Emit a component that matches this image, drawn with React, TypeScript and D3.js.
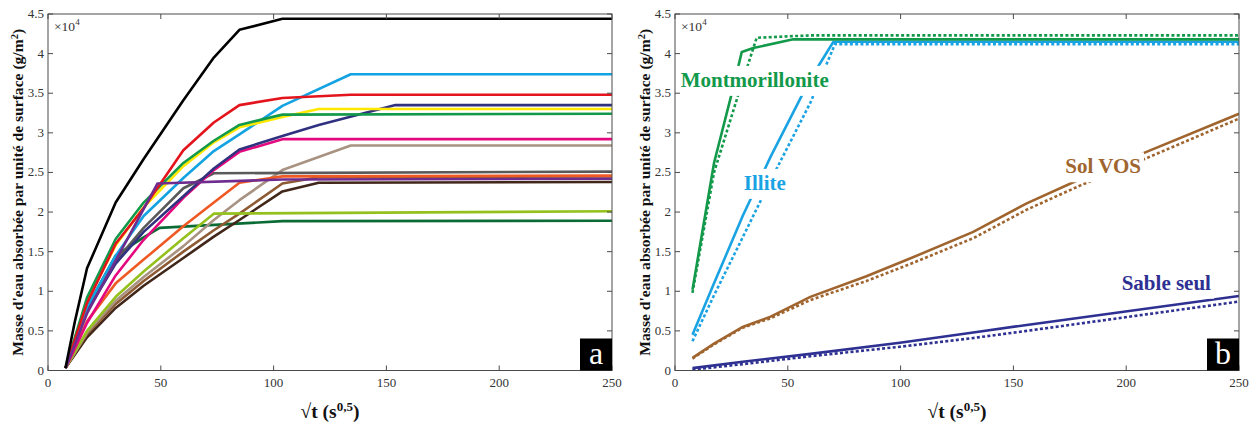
import React, { useEffect, useRef } from 'react';
import * as d3 from 'd3';

type Pt = [number, number];

const xTicks = [0, 50, 100, 150, 200, 250];
const yTicks = [0, 0.5, 1, 1.5, 2, 2.5, 3, 3.5, 4, 4.5];
const yTickLabels = ['0', '0.5', '1', '1.5', '2', '2.5', '3', '3.5', '4', '4.5'];

// Panel a: sqrt(t) (s^0.5) vs mass absorbed (x1e4 g/m2)
const aDarkGreen: Pt[] = [[7.75, 0.03], [17.3, 0.8], [30, 1.45], [42.4, 1.68], [49.5, 1.8], [103.9, 1.885], [250, 1.89]];
const aDarkBrown: Pt[] = [[7.75, 0.03], [17.3, 0.42], [30, 0.79], [42.4, 1.07], [60, 1.42], [73.5, 1.69], [84.85, 1.9], [103.9, 2.26], [120, 2.37], [250, 2.38]];
const aBrown: Pt[] = [[7.75, 0.03], [17.3, 0.46], [30, 0.84], [42.4, 1.13], [60, 1.5], [73.5, 1.77], [84.85, 1.98], [103.9, 2.36], [120, 2.44], [250, 2.45]];
const aTan: Pt[] = [[7.75, 0.03], [17.3, 0.48], [30, 0.88], [42.4, 1.18], [60, 1.57], [73.5, 1.9], [84.85, 2.15], [103.9, 2.53], [134.2, 2.84], [250, 2.84]];
const aLightGreen: Pt[] = [[7.75, 0.03], [17.3, 0.5], [30, 0.93], [42.4, 1.25], [60, 1.67], [73.5, 1.98], [250, 2.01]];
const aOrange: Pt[] = [[7.75, 0.03], [17.3, 0.62], [30, 1.1], [42.4, 1.4], [60, 1.82], [73.5, 2.12], [84.85, 2.37], [103.9, 2.45], [250, 2.46]];
const aGray: Pt[] = [[7.75, 0.03], [17.3, 0.78], [30, 1.38], [42.4, 1.8], [60, 2.3], [73.5, 2.49], [250, 2.51]];
const aPink: Pt[] = [[7.75, 0.03], [17.3, 0.6], [30, 1.2], [42.4, 1.65], [60, 2.18], [73.5, 2.53], [84.85, 2.76], [103.9, 2.92], [250, 2.92]];
const aNavy: Pt[] = [[7.75, 0.03], [17.3, 0.75], [30, 1.35], [42.4, 1.75], [60, 2.2], [73.5, 2.55], [84.85, 2.79], [103.9, 2.96], [120, 3.1], [154, 3.35], [250, 3.35]];
const aBlue: Pt[] = [[7.75, 0.03], [17.3, 0.8], [30, 1.45], [42.4, 1.95], [60, 2.43], [73.5, 2.77], [84.85, 2.98], [103.9, 3.34], [134.2, 3.74], [250, 3.74]];
const aYellow: Pt[] = [[7.75, 0.03], [17.3, 0.88], [30, 1.58], [42.4, 2.06], [60, 2.58], [73.5, 2.88], [84.85, 3.07], [103.9, 3.2], [120, 3.3], [250, 3.3]];
const aGreen: Pt[] = [[7.75, 0.03], [17.3, 0.92], [30, 1.66], [42.4, 2.12], [60, 2.62], [73.5, 2.9], [84.85, 3.1], [103.9, 3.23], [250, 3.24]];
const aRed: Pt[] = [[7.75, 0.03], [17.3, 0.85], [30, 1.6], [42.4, 2.05], [60, 2.78], [73.5, 3.13], [84.85, 3.35], [103.9, 3.44], [134.2, 3.48], [250, 3.48]];
const aPurple: Pt[] = [[7.75, 0.03], [17.3, 0.72], [48.5, 2.36], [103.9, 2.41], [250, 2.42]];
const aBlack: Pt[] = [[7.75, 0.03], [12, 0.63], [17.3, 1.29], [30, 2.12], [42.4, 2.67], [60, 3.41], [73.5, 3.95], [84.85, 4.3], [103.9, 4.44], [250, 4.44]];

const aSeries: Pt[][] = [aDarkGreen, aDarkBrown, aBrown, aTan, aLightGreen, aOrange, aGray, aPink, aNavy, aBlue, aYellow, aGreen, aRed, aPurple, aBlack];
const aColors = ['#0b6b35', '#41261a', '#8d5a33', '#a89282', '#95c11f', '#ef5a24', '#5a5a5a', '#e5097f', '#30317f', '#13a3e2', '#ffe800', '#12994a', '#e3141b', '#6f2c8f', '#000000'];

// Panel b
const bMontSolid: Pt[] = [[7.75, 1.02], [17.3, 2.62], [25, 3.48], [29.6, 4.02], [34.7, 4.07], [52.4, 4.18], [250, 4.18]];
const bMontDot: Pt[] = [[7.75, 0.98], [17.3, 2.5], [27.6, 3.44], [36.2, 4.2], [60, 4.23], [250, 4.23]];
const bIlliteSolid: Pt[] = [[7.75, 0.45], [17.3, 1.1], [30, 1.95], [42.4, 2.7], [60, 3.68], [70.2, 4.15], [250, 4.15]];
const bIlliteDot: Pt[] = [[7.75, 0.37], [17.3, 0.95], [30, 1.68], [42.4, 2.4], [60, 3.38], [70.9, 4.12], [250, 4.12]];
const bSolSolid: Pt[] = [[7.75, 0.16], [17.3, 0.34], [30, 0.55], [42.4, 0.68], [60, 0.93], [84.85, 1.19], [103.9, 1.41], [132.2, 1.75], [155.9, 2.11], [180, 2.42], [209, 2.76], [250, 3.24]];
const bSolDot: Pt[] = [[7.75, 0.15], [17.3, 0.33], [30, 0.54], [42.4, 0.66], [60, 0.89], [84.85, 1.13], [103.9, 1.34], [132.2, 1.67], [155.9, 2.03], [180, 2.34], [209, 2.68], [250, 3.18]];
const bSableSolid: Pt[] = [[7.75, 0.03], [30, 0.11], [60, 0.21], [99.7, 0.35], [132.2, 0.48], [155.9, 0.575], [250, 0.94]];
const bSableDot: Pt[] = [[7.75, 0.01], [30, 0.08], [60, 0.18], [99.7, 0.3], [132.2, 0.41], [155.9, 0.5], [250, 0.87]];

const bSeries: Pt[][] = [bSableDot, bSableSolid, bSolDot, bSolSolid, bIlliteDot, bIlliteSolid, bMontDot, bMontSolid];
const bColors = ['#2e3192', '#2e3192', '#a0652f', '#a0652f', '#1aa3e3', '#1aa3e3', '#12994a', '#12994a'];
const bDashed = [true, false, true, false, true, false, true, false];

const bLabels = ['Montmorillonite', 'Illite', 'Sol VOS', 'Sable seul'];
const bLabelColors = ['#12994a', '#1aa3e3', '#a0652f', '#2e3192'];
const bLabelPos: Pt[] = [[2.5, 3.58], [30.5, 2.28], [173, 2.49], [198, 1.02]];

const W = 1252;
const H = 426;
const SERIF = "'Liberation Serif', 'DejaVu Serif', 'Times New Roman', serif";

export default function App() {
  const ref = useRef<SVGSVGElement | null>(null);

  useEffect(() => {
    const svg = d3.select(ref.current);
    svg.selectAll('*').remove();

    const panels = [
      { x0: 48, x1: 612, letter: 'a' },
      { x0: 675, x1: 1239, letter: 'b' },
    ];
    const yTop = 14;
    const yBot = 370.5;

    panels.forEach((p, pi) => {
      const x = d3.scaleLinear().domain([0, 250]).range([p.x0, p.x1]);
      const y = d3.scaleLinear().domain([0, 4.5]).range([yBot, yTop]);
      const g = svg.append('g').style('font-family', SERIF);

      const clipId = `clip${pi}`;
      svg.append('defs').append('clipPath').attr('id', clipId)
        .append('rect').attr('x', p.x0).attr('y', yTop).attr('width', p.x1 - p.x0).attr('height', yBot - yTop);

      const line = d3.line<Pt>().x((d) => x(d[0])).y((d) => y(d[1]));
      const lg = g.append('g').attr('clip-path', `url(#${clipId})`);

      if (pi === 0) {
        aSeries.forEach((s, i) => {
          lg.append('path').attr('d', line(s) as string).attr('fill', 'none')
            .attr('stroke', aColors[i]).attr('stroke-width', 2.6).attr('stroke-linejoin', 'round');
        });
      } else {
        bSeries.forEach((s, i) => {
          lg.append('path').attr('d', line(s) as string).attr('fill', 'none')
            .attr('stroke', bColors[i]).attr('stroke-width', 2.6)
            .attr('stroke-dasharray', bDashed[i] ? '3,2.3' : null);
        });
        bLabels.forEach((t, i) => {
          const lgp = lg.append('g');
          const txt = lgp.append('text').attr('x', x(bLabelPos[i][0])).attr('y', y(bLabelPos[i][1]))
            .style('font-family', SERIF).attr('font-weight', 'bold').attr('font-size', 21)
            .attr('fill', bLabelColors[i]).text(t);
          const bb = (txt.node() as SVGTextElement).getBBox();
          lgp.insert('rect', 'text').attr('x', bb.x - 3).attr('y', bb.y - 2)
            .attr('width', bb.width + 6).attr('height', bb.height + 6).attr('fill', '#fff');
        });
      }

      const axColor = '#4a4a4a';
      g.append('rect').attr('x', p.x0).attr('y', yTop).attr('width', p.x1 - p.x0).attr('height', yBot - yTop)
        .attr('fill', 'none').attr('stroke', axColor).attr('stroke-width', 1);
      const tl = 5;
      xTicks.forEach((v) => {
        const xx = x(v);
        g.append('line').attr('x1', xx).attr('x2', xx).attr('y1', yBot).attr('y2', yBot - tl).attr('stroke', axColor);
        g.append('line').attr('x1', xx).attr('x2', xx).attr('y1', yTop).attr('y2', yTop + tl).attr('stroke', axColor);
        g.append('text').attr('x', xx).attr('y', 387).attr('text-anchor', 'middle')
          .style('font-family', SERIF).attr('font-size', 13).attr('fill', '#333').text(String(v));
      });
      yTicks.forEach((v, i) => {
        const yy = y(v);
        g.append('line').attr('x1', p.x0).attr('x2', p.x0 + tl).attr('y1', yy).attr('y2', yy).attr('stroke', axColor);
        g.append('line').attr('x1', p.x1).attr('x2', p.x1 - tl).attr('y1', yy).attr('y2', yy).attr('stroke', axColor);
        g.append('text').attr('x', p.x0 - 4).attr('y', yy + 4).attr('text-anchor', 'end')
          .style('font-family', SERIF).attr('font-size', 13).attr('fill', '#333').text(yTickLabels[i]);
      });

      const mult = g.append('text').attr('x', p.x0 + 6).attr('y', yTop + 17)
        .style('font-family', SERIF).attr('font-size', 13.5).attr('fill', '#333');
      mult.append('tspan').text('\u00d710');
      mult.append('tspan').attr('font-size', 9).attr('dy', -6).text('4');

      g.append('rect').attr('x', p.x1 - 32).attr('y', yBot - 32).attr('width', 32).attr('height', 32).attr('fill', '#000');
      g.append('text').attr('x', p.x1 - 16).attr('y', yBot - 6.5).attr('text-anchor', 'middle')
        .style('font-family', SERIF).attr('font-size', 32).attr('fill', '#fff').text(p.letter);

      const yt = g.append('text')
        .attr('transform', `translate(${p.x0 - 25},${(yTop + yBot) / 2}) rotate(-90)`)
        .attr('text-anchor', 'middle').style('font-family', SERIF).attr('font-weight', 'bold')
        .attr('font-size', 15.6).attr('fill', '#111');
      yt.append('tspan').text("Masse d'eau absorbée par unité de surface (g/m");
      yt.append('tspan').attr('font-size', 10.5).attr('dy', -5).text('2');
      yt.append('tspan').attr('dy', 5).text(')');

      const xt = g.append('text').attr('x', (p.x0 + p.x1) / 2).attr('y', 418).attr('text-anchor', 'middle')
        .style('font-family', SERIF).attr('font-weight', 'bold').attr('font-size', 19.5).attr('fill', '#111');
      xt.append('tspan').text('\u221At (s');
      xt.append('tspan').attr('font-size', 13).attr('dy', -7).text('0,5');
      xt.append('tspan').attr('dy', 7).text(')');
    });
  }, []);

  return (
    <svg ref={ref} width={W} height={H} style={{ position: 'absolute', left: 0, top: 0, background: '#fff' }} />
  );
}
